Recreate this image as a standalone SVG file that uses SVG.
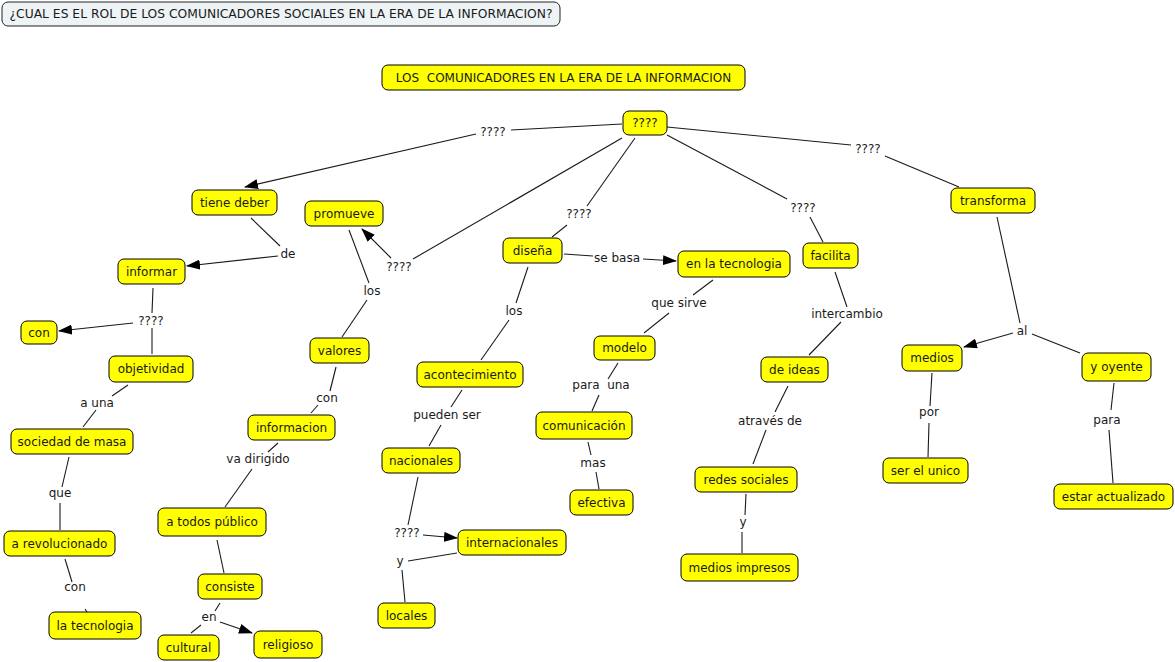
<svg xmlns="http://www.w3.org/2000/svg" width="1175" height="662" viewBox="0 0 1175 662">
<style>
.n rect{fill:#ffff00;stroke:#000;stroke-width:1}
.n text,.l text{font-family:"DejaVu Sans","Liberation Sans",sans-serif;font-size:12px;fill:#1a1a1a;text-anchor:middle}
.c line{stroke:#1a1a1a;stroke-width:1.1;fill:none}
.t rect{fill:#eef3f5;stroke:#222;stroke-width:1}
.t text{font-family:"DejaVu Sans","Liberation Sans",sans-serif;font-size:12.3px;fill:#1a1a1a;text-anchor:middle}
</style>
<defs>
<marker id="a" markerWidth="14" markerHeight="10" refX="13" refY="5" orient="auto" markerUnits="userSpaceOnUse">
<path d="M0,0 L14,5 L0,10 z" fill="#000"/>
</marker>
</defs>
<rect width="1175" height="662" fill="#fff"/>
<g id="title" class="t"><rect x="2" y="2" width="558" height="24" rx="6"/><text x="281" y="18" textLength="543" lengthAdjust="spacing">¿CUAL ES EL ROL DE LOS COMUNICADORES SOCIALES EN LA ERA DE LA INFORMACION?</text></g>

<g id="connectors" class="c">
<line x1="622" y1="124" x2="511" y2="130"/>
<line x1="476" y1="134" x2="245" y2="187" marker-end="url(#a)"/>
<line x1="635" y1="138" x2="587" y2="206"/>
<line x1="567" y1="225" x2="552" y2="237"/>
<line x1="622" y1="138" x2="413" y2="259"/>
<line x1="391" y1="258" x2="362" y2="229" marker-end="url(#a)"/>
<line x1="667" y1="135" x2="787" y2="199"/>
<line x1="810" y1="217" x2="823" y2="242"/>
<line x1="667" y1="127" x2="851" y2="145"/>
<line x1="885" y1="156" x2="959" y2="187"/>
<line x1="251" y1="218" x2="280" y2="246"/>
<line x1="278" y1="256" x2="187" y2="266" marker-end="url(#a)"/>
<line x1="153" y1="288" x2="152" y2="313"/>
<line x1="133" y1="323" x2="59" y2="331" marker-end="url(#a)"/>
<line x1="152" y1="328" x2="152" y2="354"/>
<line x1="128" y1="385" x2="112" y2="396"/>
<line x1="96" y1="410" x2="83" y2="427"/>
<line x1="69" y1="457" x2="62" y2="487"/>
<line x1="60" y1="503" x2="60" y2="530"/>
<line x1="65" y1="559" x2="72" y2="582"/>
<line x1="85" y1="609" x2="87" y2="612"/>
<line x1="349" y1="230" x2="369" y2="283"/>
<line x1="367" y1="300" x2="342" y2="337"/>
<line x1="336" y1="367" x2="330" y2="391"/>
<line x1="318" y1="405" x2="311" y2="413"/>
<line x1="278" y1="443" x2="268" y2="452"/>
<line x1="252" y1="469" x2="225" y2="507"/>
<line x1="217" y1="540" x2="224" y2="573"/>
<line x1="220" y1="603" x2="215" y2="611"/>
<line x1="201" y1="625" x2="191" y2="633"/>
<line x1="220" y1="622" x2="252" y2="633" marker-end="url(#a)"/>
<line x1="564" y1="254" x2="593" y2="256"/>
<line x1="643" y1="259" x2="676" y2="261" marker-end="url(#a)"/>
<line x1="528" y1="267" x2="516" y2="303"/>
<line x1="509" y1="320" x2="481" y2="360"/>
<line x1="462" y1="390" x2="451" y2="407"/>
<line x1="441" y1="425" x2="429" y2="446"/>
<line x1="418" y1="477" x2="408" y2="525"/>
<line x1="423" y1="535" x2="457" y2="538" marker-end="url(#a)"/>
<line x1="457" y1="553" x2="408" y2="561"/>
<line x1="402" y1="570" x2="405" y2="602"/>
<line x1="713" y1="280" x2="693" y2="295"/>
<line x1="669" y1="313" x2="644" y2="333"/>
<line x1="618" y1="363" x2="608" y2="379"/>
<line x1="599" y1="395" x2="592" y2="411"/>
<line x1="588" y1="442" x2="591" y2="455"/>
<line x1="596" y1="472" x2="599" y2="489"/>
<line x1="835" y1="272" x2="847" y2="307"/>
<line x1="841" y1="322" x2="809" y2="355"/>
<line x1="788" y1="386" x2="775" y2="412"/>
<line x1="766" y1="430" x2="753" y2="464"/>
<line x1="746" y1="494" x2="745" y2="515"/>
<line x1="742" y1="532" x2="742" y2="553"/>
<line x1="997" y1="217" x2="1020" y2="323"/>
<line x1="1013" y1="333" x2="964" y2="347" marker-end="url(#a)"/>
<line x1="1032" y1="334" x2="1080" y2="353"/>
<line x1="932" y1="373" x2="930" y2="406"/>
<line x1="929" y1="423" x2="928" y2="457"/>
<line x1="1114" y1="383" x2="1111" y2="410"/>
<line x1="1109" y1="430" x2="1113" y2="483"/>
</g>

<g id="labels" class="l">
<text x="493" y="136">????</text>
<text x="288" y="258">de</text>
<text x="151" y="325">????</text>
<text x="97" y="407">a una</text>
<text x="60" y="497">que</text>
<text x="75" y="591">con</text>
<text x="399" y="271">????</text>
<text x="372" y="295">los</text>
<text x="327" y="402">con</text>
<text x="258" y="463">va dirigido</text>
<text x="209" y="621">en</text>
<text x="579" y="218">????</text>
<text x="617" y="262">se basa</text>
<text x="514" y="315">los</text>
<text x="447" y="419">pueden ser</text>
<text x="407" y="537">????</text>
<text x="400" y="565">y</text>
<text x="679" y="307">que sirve</text>
<text x="601" y="389" xml:space="preserve">para  una</text>
<text x="593" y="467">mas</text>
<text x="803" y="212">????</text>
<text x="847" y="318">intercambio</text>
<text x="770" y="425">através de</text>
<text x="743" y="526">y</text>
<text x="868" y="153">????</text>
<text x="1022" y="335">al</text>
<text x="929" y="416">por</text>
<text x="1107" y="424">para</text>
</g>

<g id="main" class="n"><rect x="382" y="65" width="363" height="25" rx="6"/><text x="563.5" y="81.5" xml:space="preserve">LOS  COMUNICADORES EN LA ERA DE LA INFORMACION</text></g>
<g id="q" class="n"><rect x="623" y="111" width="44" height="24" rx="6"/><text x="645" y="127">????</text></g>
<g id="tiene-deber" class="n"><rect x="192" y="190" width="85" height="25" rx="6"/><text x="234.5" y="206.5">tiene deber</text></g>
<g id="promueve" class="n"><rect x="305" y="201" width="78" height="25" rx="6"/><text x="344" y="217.5">promueve</text></g>
<g id="informar" class="n"><rect x="118" y="259" width="67" height="25" rx="6"/><text x="151.5" y="275.5">informar</text></g>
<g id="con" class="n"><rect x="21" y="321" width="36" height="23" rx="6"/><text x="39" y="336.5">con</text></g>
<g id="objetividad" class="n"><rect x="109" y="356" width="84" height="26" rx="6"/><text x="151" y="373">objetividad</text></g>
<g id="sociedad" class="n"><rect x="11" y="429" width="122" height="25" rx="6"/><text x="72" y="445.5">sociedad de masa</text></g>
<g id="revolucionado" class="n"><rect x="4" y="531" width="111" height="25" rx="6"/><text x="59.5" y="547.5">a revolucionado</text></g>
<g id="la-tecnologia" class="n"><rect x="49" y="612" width="92" height="27" rx="6"/><text x="95" y="629.5">la tecnologia</text></g>
<g id="valores" class="n"><rect x="310" y="338" width="59" height="25" rx="6"/><text x="339.5" y="354.5">valores</text></g>
<g id="informacion" class="n"><rect x="248" y="415" width="87" height="25" rx="6"/><text x="291.5" y="431.5">informacion</text></g>
<g id="todos" class="n"><rect x="158" y="508" width="108" height="28" rx="6"/><text x="212" y="526">a todos público</text></g>
<g id="consiste" class="n"><rect x="198" y="574" width="64" height="25" rx="6"/><text x="230" y="590.5">consiste</text></g>
<g id="cultural" class="n"><rect x="158" y="635" width="61" height="25" rx="6"/><text x="188.5" y="651.5">cultural</text></g>
<g id="religioso" class="n"><rect x="254" y="631" width="68" height="27" rx="6"/><text x="288" y="648.5">religioso</text></g>
<g id="disena" class="n"><rect x="503" y="238" width="59" height="25" rx="6"/><text x="532.5" y="254.5">diseña</text></g>
<g id="en-la-tecnologia" class="n"><rect x="678" y="251" width="112" height="26" rx="6"/><text x="734" y="268">en la tecnologia</text></g>
<g id="acontecimiento" class="n"><rect x="417" y="362" width="106" height="25" rx="6"/><text x="470" y="378.5">acontecimiento</text></g>
<g id="nacionales" class="n"><rect x="382" y="448" width="78" height="25" rx="6"/><text x="421" y="464.5">nacionales</text></g>
<g id="internacionales" class="n"><rect x="458" y="530" width="108" height="25" rx="6"/><text x="512" y="546.5">internacionales</text></g>
<g id="locales" class="n"><rect x="378" y="603" width="57" height="25" rx="6"/><text x="406.5" y="619.5">locales</text></g>
<g id="modelo" class="n"><rect x="594" y="336" width="61" height="24" rx="6"/><text x="624.5" y="352">modelo</text></g>
<g id="comunicacion" class="n"><rect x="536" y="412" width="96" height="27" rx="6"/><text x="584" y="429.5">comunicación</text></g>
<g id="efectiva" class="n"><rect x="570" y="490" width="63" height="25" rx="6"/><text x="601.5" y="506.5">efectiva</text></g>
<g id="facilita" class="n"><rect x="803" y="243" width="55" height="25" rx="6"/><text x="830.5" y="259.5">facilita</text></g>
<g id="de-ideas" class="n"><rect x="761" y="357" width="67" height="25" rx="6"/><text x="794.5" y="373.5">de ideas</text></g>
<g id="redes" class="n"><rect x="695" y="467" width="102" height="25" rx="6"/><text x="746" y="483.5">redes sociales</text></g>
<g id="impresos" class="n"><rect x="681" y="554" width="117" height="27" rx="6"/><text x="739.5" y="571.5">medios impresos</text></g>
<g id="transforma" class="n"><rect x="951" y="188" width="84" height="25" rx="6"/><text x="993" y="204.5">transforma</text></g>
<g id="medios" class="n"><rect x="902" y="345" width="60" height="26" rx="6"/><text x="932" y="362">medios</text></g>
<g id="oyente" class="n"><rect x="1082" y="353" width="69" height="28" rx="6"/><text x="1116.5" y="371">y oyente</text></g>
<g id="unico" class="n"><rect x="883" y="458" width="85" height="25" rx="6"/><text x="925.5" y="474.5">ser el unico</text></g>
<g id="actualizado" class="n"><rect x="1054" y="484" width="119" height="25" rx="6"/><text x="1113.5" y="500.5">estar actualizado</text></g>
</svg>
